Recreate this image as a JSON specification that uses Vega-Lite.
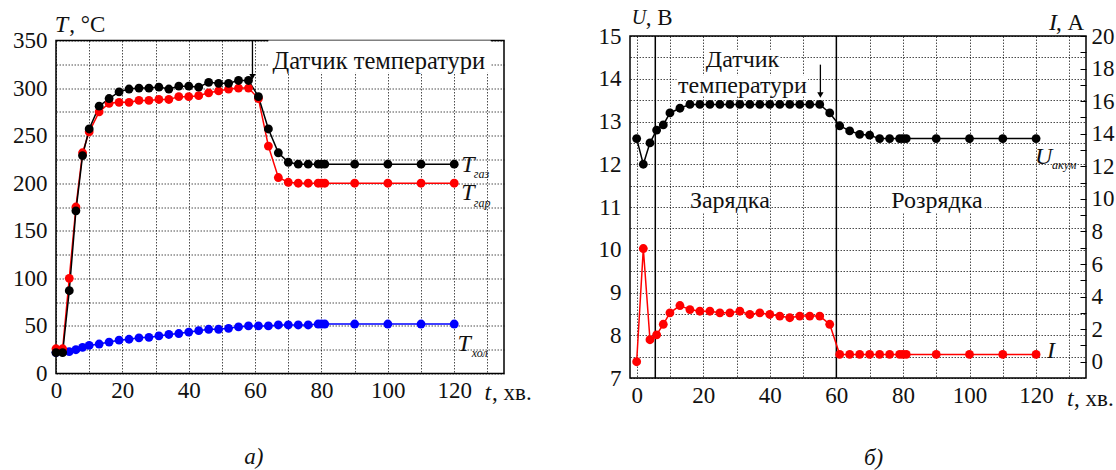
{
  "$schema": "https://vega.github.io/schema/vega-lite/v6.json",
  "background": "white",
  "autosize": {"type": "pad"},
  "padding": {"left": 11, "top": 6, "right": 0, "bottom": 0},
  "spacing": 126,
  "bounds": "flush",
  "center": true,
  "config": {
    "font": "Liberation Serif",
    "view": {"stroke": "#000", "strokeWidth": 1.5},
    "axis": {
      "labelFont": "Liberation Serif",
      "labelFontSize": 23,
      "labelColor": "#111",
      "labelFlush": false,
      "labelOverlap": false,
      "domain": false,
      "ticks": false,
      "gridColor": "#000",
      "gridDash": [1.5, 1.5],
      "gridOpacity": 0.7,
      "gridWidth": 1
    },
    "text": {"font": "Liberation Serif", "color": "#111"}
  },
  "datasets": {
    "temp": [
      {"t": 0, "T": 22, "s": "хол"}, {"t": 2, "T": 23, "s": "хол"}, {"t": 4, "T": 23, "s": "хол"}, {"t": 6, "T": 25, "s": "хол"}, {"t": 8, "T": 27.5, "s": "хол"}, {"t": 10, "T": 29.5, "s": "хол"}, {"t": 13, "T": 31, "s": "хол"}, {"t": 16, "T": 33, "s": "хол"}, {"t": 19, "T": 35, "s": "хол"}, {"t": 22, "T": 36, "s": "хол"}, {"t": 25, "T": 37.5, "s": "хол"}, {"t": 28, "T": 38, "s": "хол"}, {"t": 31, "T": 39.5, "s": "хол"}, {"t": 34, "T": 41, "s": "хол"}, {"t": 37, "T": 42, "s": "хол"}, {"t": 40, "T": 43.5, "s": "хол"}, {"t": 43, "T": 45, "s": "хол"}, {"t": 46, "T": 46.5, "s": "хол"}, {"t": 49, "T": 46.5, "s": "хол"}, {"t": 52, "T": 47.5, "s": "хол"}, {"t": 55, "T": 49, "s": "хол"}, {"t": 58, "T": 50, "s": "хол"}, {"t": 61, "T": 50, "s": "хол"}, {"t": 64, "T": 50, "s": "хол"}, {"t": 67, "T": 51, "s": "хол"}, {"t": 70, "T": 51, "s": "хол"}, {"t": 73, "T": 51, "s": "хол"}, {"t": 76, "T": 51, "s": "хол"}, {"t": 79, "T": 52, "s": "хол"}, {"t": 80, "T": 52, "s": "хол"}, {"t": 81, "T": 52, "s": "хол"}, {"t": 90, "T": 52, "s": "хол"}, {"t": 100, "T": 52, "s": "хол"}, {"t": 110, "T": 52, "s": "хол"}, {"t": 120, "T": 52, "s": "хол"},
      {"t": 0, "T": 26, "s": "гар"}, {"t": 2, "T": 26, "s": "гар"}, {"t": 4, "T": 100, "s": "гар"}, {"t": 6, "T": 175, "s": "гар"}, {"t": 8, "T": 232, "s": "гар"}, {"t": 10, "T": 254, "s": "гар"}, {"t": 13, "T": 275, "s": "гар"}, {"t": 16, "T": 284, "s": "гар"}, {"t": 19, "T": 285, "s": "гар"}, {"t": 22, "T": 285, "s": "гар"}, {"t": 25, "T": 287, "s": "гар"}, {"t": 28, "T": 287, "s": "гар"}, {"t": 31, "T": 288, "s": "гар"}, {"t": 34, "T": 288, "s": "гар"}, {"t": 37, "T": 291, "s": "гар"}, {"t": 40, "T": 291, "s": "гар"}, {"t": 43, "T": 292, "s": "гар"}, {"t": 46, "T": 295, "s": "гар"}, {"t": 49, "T": 297, "s": "гар"}, {"t": 52, "T": 299, "s": "гар"}, {"t": 55, "T": 300, "s": "гар"}, {"t": 58, "T": 300, "s": "гар"}, {"t": 61, "T": 289, "s": "гар"}, {"t": 64, "T": 239, "s": "гар"}, {"t": 67, "T": 206, "s": "гар"}, {"t": 70, "T": 201, "s": "гар"}, {"t": 73, "T": 200, "s": "гар"}, {"t": 76, "T": 200, "s": "гар"}, {"t": 79, "T": 200, "s": "гар"}, {"t": 80, "T": 200, "s": "гар"}, {"t": 81, "T": 200, "s": "гар"}, {"t": 90, "T": 200, "s": "гар"}, {"t": 100, "T": 200, "s": "гар"}, {"t": 110, "T": 200, "s": "гар"}, {"t": 120, "T": 200, "s": "гар"},
      {"t": 0, "T": 22, "s": "газ"}, {"t": 2, "T": 22, "s": "газ"}, {"t": 4, "T": 87, "s": "газ"}, {"t": 6, "T": 171, "s": "газ"}, {"t": 8, "T": 229, "s": "газ"}, {"t": 10, "T": 257, "s": "газ"}, {"t": 13, "T": 281, "s": "газ"}, {"t": 16, "T": 289, "s": "газ"}, {"t": 19, "T": 296, "s": "газ"}, {"t": 22, "T": 299, "s": "газ"}, {"t": 25, "T": 300, "s": "газ"}, {"t": 28, "T": 300, "s": "газ"}, {"t": 31, "T": 301, "s": "газ"}, {"t": 34, "T": 299, "s": "газ"}, {"t": 37, "T": 302, "s": "газ"}, {"t": 40, "T": 302, "s": "газ"}, {"t": 43, "T": 301, "s": "газ"}, {"t": 46, "T": 306, "s": "газ"}, {"t": 49, "T": 305, "s": "газ"}, {"t": 52, "T": 305, "s": "газ"}, {"t": 55, "T": 308, "s": "газ"}, {"t": 58, "T": 308, "s": "газ"}, {"t": 61, "T": 291, "s": "газ"}, {"t": 64, "T": 257, "s": "газ"}, {"t": 67, "T": 232, "s": "газ"}, {"t": 70, "T": 222, "s": "газ"}, {"t": 73, "T": 220, "s": "газ"}, {"t": 76, "T": 220, "s": "газ"}, {"t": 79, "T": 220, "s": "газ"}, {"t": 80, "T": 220, "s": "газ"}, {"t": 81, "T": 220, "s": "газ"}, {"t": 90, "T": 220, "s": "газ"}, {"t": 100, "T": 220, "s": "газ"}, {"t": 110, "T": 220, "s": "газ"}, {"t": 120, "T": 220, "s": "газ"}
    ],
    "bgA": [{"t": 64, "t2": 131, "T": 316, "T2": 350}],
    "arrowA": [{"t": 59.2, "T": 312, "T2": 350}],
    "textA": [
      {"t": -0.4, "T": 366, "label": "T", "kind": "it"},
      {"t": 4.0, "T": 366, "label": ", °C", "kind": "reg"},
      {"t": 129.1, "T": -20.5, "label": "t", "kind": "it"},
      {"t": 131.4, "T": -20.5, "label": ", хв.", "kind": "reg"},
      {"t": 122.1, "T": 219, "label": "T", "kind": "it"},
      {"t": 125.9, "T": 209.5, "label": "газ", "kind": "sub"},
      {"t": 122.1, "T": 189.3, "label": "T", "kind": "it"},
      {"t": 125.9, "T": 179.5, "label": "гар", "kind": "sub"},
      {"t": 121, "T": 31, "label": "T", "kind": "it"},
      {"t": 125.3, "T": 21.5, "label": "хол", "kind": "sub"},
      {"t": 97.3, "T": 327.5, "label": "Датчик температури", "kind": "regc"},
      {"t": 59.6, "T": -87.4, "label": "а)", "kind": "itc"}
    ],
    "volt": [
      {"t": 0, "U": 12.6}, {"t": 2, "U": 12.0}, {"t": 4, "U": 12.5}, {"t": 6, "U": 12.8}, {"t": 8, "U": 12.92}, {"t": 10, "U": 13.2}, {"t": 13, "U": 13.31}, {"t": 16, "U": 13.4}, {"t": 19, "U": 13.4}, {"t": 22, "U": 13.4}, {"t": 25, "U": 13.4}, {"t": 28, "U": 13.4}, {"t": 31, "U": 13.4}, {"t": 34, "U": 13.4}, {"t": 37, "U": 13.4}, {"t": 40, "U": 13.4}, {"t": 43, "U": 13.4}, {"t": 46, "U": 13.4}, {"t": 49, "U": 13.4}, {"t": 52, "U": 13.4}, {"t": 55, "U": 13.4}, {"t": 58, "U": 13.2}, {"t": 61, "U": 12.9}, {"t": 64, "U": 12.78}, {"t": 67, "U": 12.7}, {"t": 70, "U": 12.68}, {"t": 73, "U": 12.6}, {"t": 76, "U": 12.6}, {"t": 79, "U": 12.6}, {"t": 80, "U": 12.6}, {"t": 81, "U": 12.6}, {"t": 90, "U": 12.6}, {"t": 100, "U": 12.6}, {"t": 110, "U": 12.6}, {"t": 120, "U": 12.6}
    ],
    "curr": [
      {"t": 0, "I": 0}, {"t": 2, "I": 6.95}, {"t": 4, "I": 1.35}, {"t": 6, "I": 1.65}, {"t": 8, "I": 2.3}, {"t": 10, "I": 3.0}, {"t": 13, "I": 3.45}, {"t": 16, "I": 3.2}, {"t": 19, "I": 3.1}, {"t": 22, "I": 3.1}, {"t": 25, "I": 3.0}, {"t": 28, "I": 3.0}, {"t": 31, "I": 3.1}, {"t": 34, "I": 2.9}, {"t": 37, "I": 3.0}, {"t": 40, "I": 2.9}, {"t": 43, "I": 2.8}, {"t": 46, "I": 2.7}, {"t": 49, "I": 2.8}, {"t": 52, "I": 2.8}, {"t": 55, "I": 2.8}, {"t": 58, "I": 2.3}, {"t": 61, "I": 0.45}, {"t": 64, "I": 0.45}, {"t": 67, "I": 0.45}, {"t": 70, "I": 0.45}, {"t": 73, "I": 0.45}, {"t": 76, "I": 0.45}, {"t": 79, "I": 0.45}, {"t": 80, "I": 0.45}, {"t": 81, "I": 0.45}, {"t": 90, "I": 0.45}, {"t": 100, "I": 0.45}, {"t": 110, "I": 0.45}, {"t": 120, "I": 0.45}
    ],
    "bgB": [
      {"t": 20.5, "t2": 43, "U": 14.22, "U2": 14.68},
      {"t": 12, "t2": 51.5, "U": 13.6, "U2": 14.08},
      {"t": 16.5, "t2": 40, "U": 10.88, "U2": 11.42},
      {"t": 76, "t2": 104.5, "U": 10.88, "U2": 11.42}
    ],
    "vB": [{"t": 5.6, "U": 7, "U2": 15}, {"t": 60, "U": 7, "U2": 15}],
    "arrowB": [{"t": 55.2, "U": 13.62, "U2": 14.33}],
    "textB": [
      {"t": -1.5, "U": 15.41, "label": "U", "kind": "its"},
      {"t": 2.7, "U": 15.41, "label": ", В", "kind": "reg"},
      {"t": 123.9, "U": 15.3, "label": "I", "kind": "it"},
      {"t": 126, "U": 15.3, "label": ", А", "kind": "reg"},
      {"t": 129.3, "U": 6.52, "label": "t", "kind": "it"},
      {"t": 131.4, "U": 6.52, "label": ", хв.", "kind": "reg"},
      {"t": 31.8, "U": 14.44, "label": "Датчик", "kind": "regc"},
      {"t": 31.8, "U": 13.83, "label": "температури", "kind": "regc"},
      {"t": 28, "U": 11.15, "label": "Зарядка", "kind": "regc"},
      {"t": 90.2, "U": 11.15, "label": "Розрядка", "kind": "regc"},
      {"t": 119.7, "U": 12.17, "label": "U", "kind": "it"},
      {"t": 124.8, "U": 11.98, "label": "акум", "kind": "sub"},
      {"t": 123.3, "U": 7.64, "label": "I", "kind": "it"},
      {"t": 71.2, "U": 5.12, "label": "б)", "kind": "itc"}
    ]
  },
  "hconcat": [
    {
      "width": 448,
      "height": 333,
      "encoding": {
        "x": {"field": "t", "type": "quantitative",
          "scale": {"domain": [0, 135], "nice": false, "zero": false},
          "axis": {"title": null, "grid": true, "values": [0, 10, 20, 30, 40, 50, 60, 70, 80, 90, 100, 110, 120, 130],
            "labelExpr": "datum.value % 20 === 0 ? datum.label : ''", "labelPadding": 6}},
        "y": {"field": "T", "type": "quantitative",
          "scale": {"domain": [0, 350], "nice": false, "zero": false},
          "axis": {"title": null, "grid": true, "values": [0, 25, 50, 75, 100, 125, 150, 175, 200, 225, 250, 275, 300, 325, 350],
            "labelExpr": "datum.value % 50 === 0 ? datum.label : ''", "labelPadding": 9}}
      },
      "layer": [
        {"data": {"name": "bgA"}, "mark": {"type": "rect", "color": "white"},
          "encoding": {"x2": {"field": "t2"}, "y2": {"field": "T2"}}},
        {"data": {"name": "temp"}, "mark": {"type": "line", "strokeWidth": 1.5},
          "encoding": {"color": {"field": "s", "type": "nominal", "scale": {"domain": ["хол", "гар", "газ"], "range": ["#0000ff", "#ff0000", "#000000"]}, "legend": null}}},
        {"data": {"name": "temp"}, "mark": {"type": "point", "filled": true, "size": 78, "opacity": 1},
          "encoding": {"color": {"field": "s", "type": "nominal", "scale": {"domain": ["хол", "гар", "газ"], "range": ["#0000ff", "#ff0000", "#000000"]}, "legend": null}}},
        {"data": {"name": "arrowA"}, "mark": {"type": "rule", "color": "#000", "strokeWidth": 1.3},
          "encoding": {"y2": {"field": "T2"}}},
        {"data": {"name": "arrowA"}, "mark": {"type": "point", "shape": "triangle-down", "filled": true, "size": 40, "color": "#000", "opacity": 1}},
        {"data": {"name": "textA"}, "transform": [{"filter": "datum.kind === 'it'"}],
          "mark": {"type": "text", "fontStyle": "italic", "fontSize": 24, "align": "left", "baseline": "middle"},
          "encoding": {"text": {"field": "label"}}},
        {"data": {"name": "textA"}, "transform": [{"filter": "datum.kind === 'reg'"}],
          "mark": {"type": "text", "fontSize": 23, "align": "left", "baseline": "middle"},
          "encoding": {"text": {"field": "label"}}},
        {"data": {"name": "textA"}, "transform": [{"filter": "datum.kind === 'sub'"}],
          "mark": {"type": "text", "fontStyle": "italic", "fontSize": 12, "align": "left", "baseline": "middle"},
          "encoding": {"text": {"field": "label"}}},
        {"data": {"name": "textA"}, "transform": [{"filter": "datum.kind === 'regc'"}],
          "mark": {"type": "text", "fontSize": 24.5, "align": "center", "baseline": "middle"},
          "encoding": {"text": {"field": "label"}}},
        {"data": {"name": "textA"}, "transform": [{"filter": "datum.kind === 'itc'"}],
          "mark": {"type": "text", "fontStyle": "italic", "fontSize": 23, "align": "center", "baseline": "middle"},
          "encoding": {"text": {"field": "label"}}}
      ]
    },
    {
      "width": 456,
      "height": 342,
      "encoding": {
        "x": {"field": "t", "type": "quantitative",
          "scale": {"domain": [-2, 135], "nice": false, "zero": false},
          "axis": {"title": null, "grid": true, "values": [0, 10, 20, 30, 40, 50, 60, 70, 80, 90, 100, 110, 120, 130],
            "labelExpr": "datum.value % 20 === 0 ? datum.label : ''", "labelPadding": 6}}
      },
      "layer": [
        {
          "encoding": {
            "y": {"field": "U", "type": "quantitative",
              "scale": {"domain": [7, 15], "nice": false, "zero": false},
              "axis": {"title": null, "grid": true, "values": [7, 7.5, 8, 8.5, 9, 9.5, 10, 10.5, 11, 11.5, 12, 12.5, 13, 13.5, 14, 14.5, 15],
                "labelExpr": "datum.value % 1 === 0 ? format(datum.value, 'd') : ''", "labelPadding": 9}}
          },
          "layer": [
            {"data": {"name": "bgB"}, "mark": {"type": "rect", "color": "white"},
              "encoding": {"x2": {"field": "t2"}, "y2": {"field": "U2"}}},
            {"data": {"name": "vB"}, "mark": {"type": "rule", "color": "#000", "strokeWidth": 1.5},
              "encoding": {"y2": {"field": "U2"}}},
            {"data": {"name": "volt"}, "mark": {"type": "line", "color": "#000", "strokeWidth": 1.5}},
            {"data": {"name": "volt"}, "mark": {"type": "point", "filled": true, "size": 78, "color": "#000", "opacity": 1}},
            {"data": {"name": "arrowB"}, "mark": {"type": "rule", "color": "#000", "strokeWidth": 1.3},
              "encoding": {"y2": {"field": "U2"}}},
            {"data": {"name": "arrowB"}, "mark": {"type": "point", "shape": "triangle-down", "filled": true, "size": 40, "color": "#000", "opacity": 1}},
            {"data": {"name": "textB"}, "transform": [{"filter": "datum.kind === 'it'"}],
              "mark": {"type": "text", "fontStyle": "italic", "fontSize": 24, "align": "left", "baseline": "middle"},
              "encoding": {"text": {"field": "label"}}},
            {"data": {"name": "textB"}, "transform": [{"filter": "datum.kind === 'its'"}],
              "mark": {"type": "text", "fontStyle": "italic", "fontSize": 20, "align": "left", "baseline": "middle"},
              "encoding": {"text": {"field": "label"}}},
            {"data": {"name": "textB"}, "transform": [{"filter": "datum.kind === 'reg'"}],
              "mark": {"type": "text", "fontSize": 23, "align": "left", "baseline": "middle"},
              "encoding": {"text": {"field": "label"}}},
            {"data": {"name": "textB"}, "transform": [{"filter": "datum.kind === 'sub'"}],
              "mark": {"type": "text", "fontStyle": "italic", "fontSize": 12, "align": "left", "baseline": "middle"},
              "encoding": {"text": {"field": "label"}}},
            {"data": {"name": "textB"}, "transform": [{"filter": "datum.kind === 'regc'"}],
              "mark": {"type": "text", "fontSize": 24, "align": "center", "baseline": "middle"},
              "encoding": {"text": {"field": "label"}}},
            {"data": {"name": "textB"}, "transform": [{"filter": "datum.kind === 'itc'"}],
              "mark": {"type": "text", "fontStyle": "italic", "fontSize": 23, "align": "center", "baseline": "middle"},
              "encoding": {"text": {"field": "label"}}}
          ]
        },
        {
          "encoding": {
            "y": {"field": "I", "type": "quantitative",
              "scale": {"domain": [-1, 20], "nice": false, "zero": false},
              "axis": {"title": null, "orient": "right", "grid": false, "ticks": true, "tickSize": -6, "tickColor": "#000", "tickWidth": 1,
                "values": [0, 1, 2, 3, 4, 5, 6, 7, 8, 9, 10, 11, 12, 13, 14, 15, 16, 17, 18, 19, 20],
                "labelExpr": "datum.value % 2 === 0 ? datum.label : ''", "labelPadding": 11}}
          },
          "layer": [
            {"data": {"name": "curr"}, "mark": {"type": "line", "color": "#ff0000", "strokeWidth": 1.5}},
            {"data": {"name": "curr"}, "mark": {"type": "point", "filled": true, "size": 78, "color": "#ff0000", "opacity": 1}}
          ]
        }
      ],
      "resolve": {"scale": {"y": "independent"}}
    }
  ]
}
